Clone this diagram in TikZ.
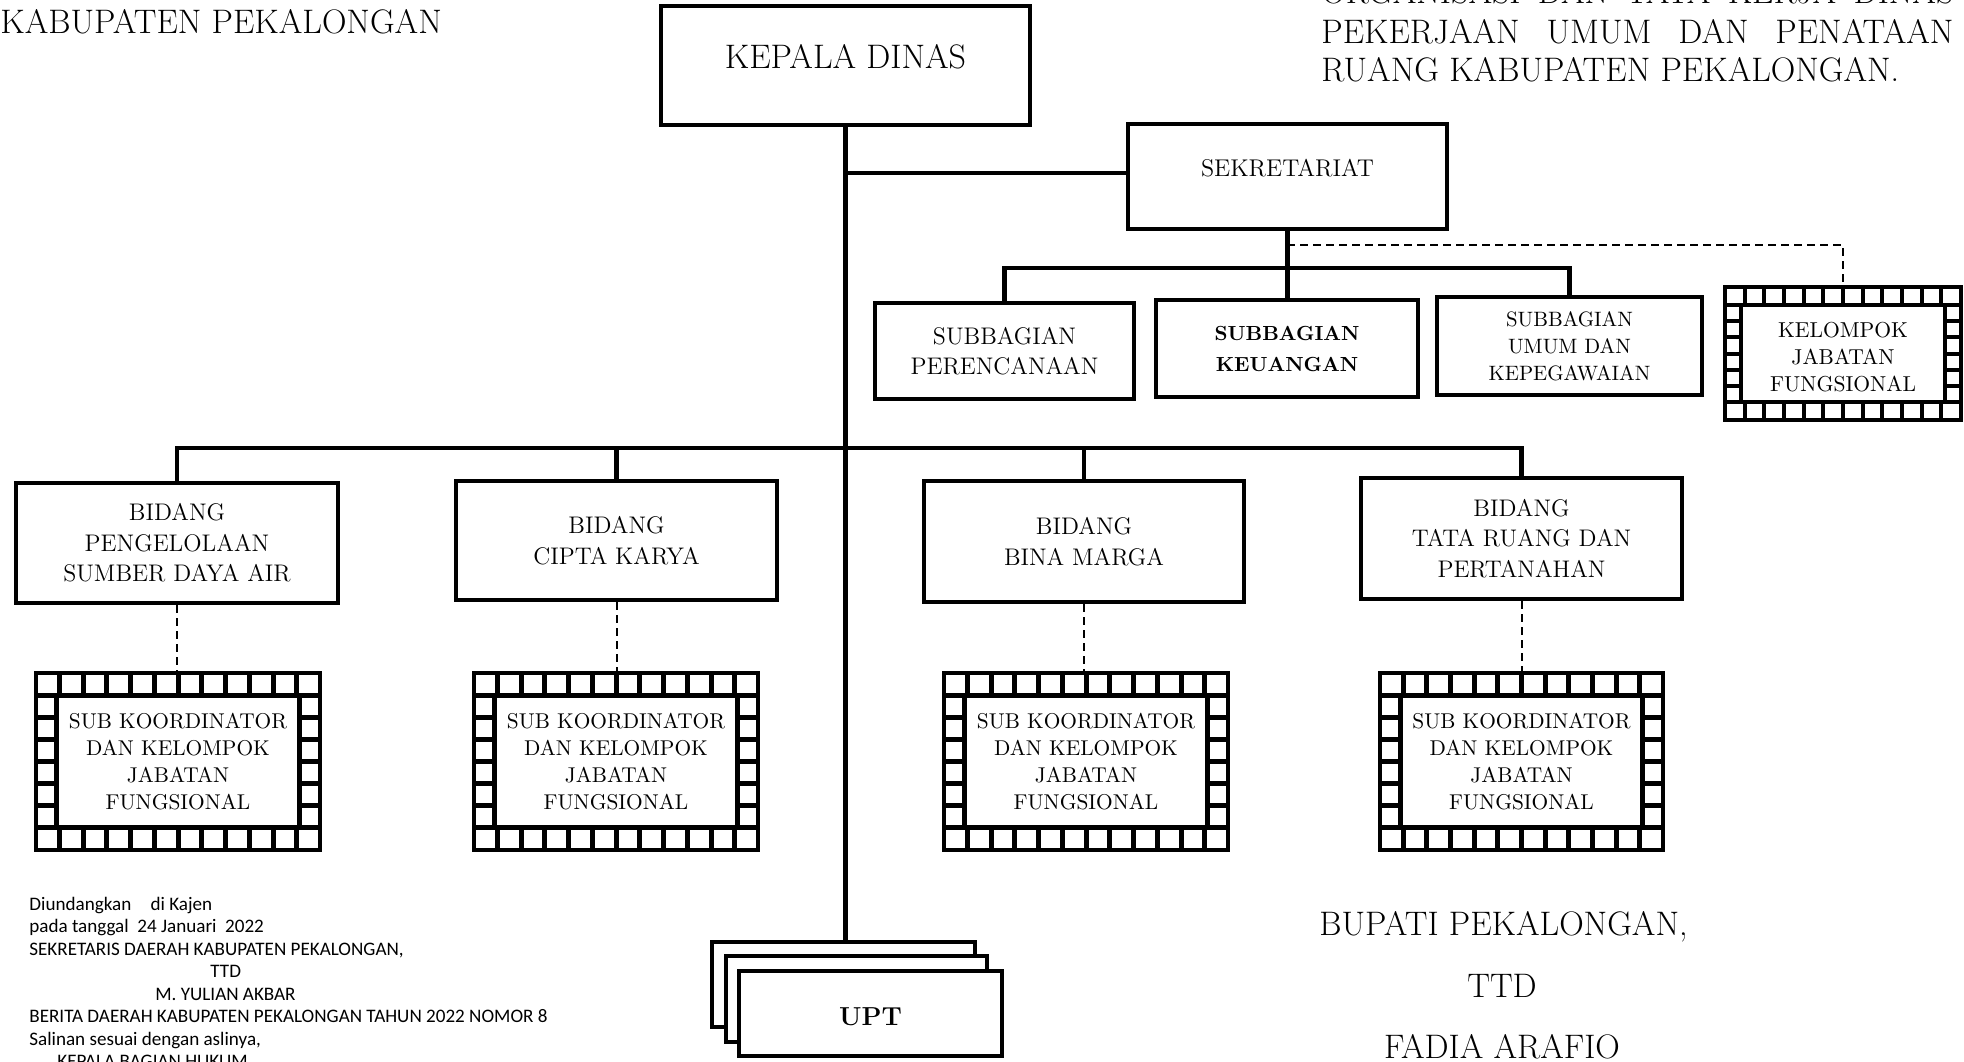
\documentclass[tikz,border=0pt]{standalone}
\usepackage{fontspec}
\newfontfamily\calfont{Carlito}
\newcommand\fsz[2]{\fontsize{#1}{#2}\selectfont}
% film-strip frame: x1 y1 x2 y2 ncols nrows outer cell sep
\newcommand\filmbox[9]{%
  \fill[black] (#1,#2) rectangle (#3,#4);
  \pgfmathsetmacro\fbpx{(#3-#1-2*#7+#9)/#5}%
  \pgfmathsetmacro\fbcs{#8-2}%
  \pgfmathsetmacro\fbys{#2+#7+#8+#9}%
  \pgfmathsetmacro\fbye{#4-#7-#8-#9}%
  \pgfmathsetmacro\fbpy{(\fbye-\fbys+#9)/#6}%
  \foreach \i in {1,...,#5}{%
    \pgfmathsetmacro\fbxa{#1+#7+(\i-1)*\fbpx}%
    \pgfmathsetmacro\fbxb{\fbxa+\fbpx-#9}%
    \fill[white] (\fbxa,{#2+#7}) rectangle (\fbxb,{#2+#7+#8});
    \fill[white] (\fbxa,{#4-#7}) rectangle (\fbxb,{#4-#7-#8});
  }%
  \foreach \j in {1,...,#6}{%
    \pgfmathsetmacro\fbya{\fbys+(\j-1)*\fbpy}%
    \pgfmathsetmacro\fbyb{\fbya+\fbpy-#9}%
    \fill[white] ({#1+#7},\fbya) rectangle ({#1+#7+\fbcs},\fbyb);
    \fill[white] ({#3-#7},\fbya) rectangle ({#3-#7-\fbcs},\fbyb);
  }%
  \fill[white] ({#1+#7+\fbcs+#9},\fbys) rectangle ({#3-#7-\fbcs-#9},\fbye);
}
\begin{document}
\begin{tikzpicture}[x=0.5pt,y=-0.5pt,
  box/.style={draw, line width=2.3pt, fill=white, inner sep=0pt, align=center},
  conn/.style={line width=2.2pt},
  dsh/.style={line width=1pt, dash pattern=on 4pt off 2.5pt},
  big/.style={font=\fsz{17}{19}},
  mid/.style={font=\fsz{12}{15.3}},
  sktext/.style={align=center, inner sep=0pt, font=\fsz{10.7}{13.4}, minimum width=144pt, minimum height=90.5pt},
  plain/.style={inner sep=0pt},
  cal/.style={font=\calfont\fsz{9.55}{11.25}, inner sep=0pt, anchor=base west},
]
\useasboundingbox (0,0) rectangle (1964,1061);

% ---------- boxes ----------
\node[box, big, minimum width=184.5pt, minimum height=59.5pt, text depth=9pt] (kd) at (845.5,65.5) {KEPALA DINAS};
\node[box, font=\fsz{12.1}{15}, minimum width=159.5pt, minimum height=52.5pt, text depth=9pt] (sek) at (1287.5,176.5) {SEKRETARIAT};
\node[box, mid, minimum width=129.5pt, minimum height=48pt] (per) at (1004.5,351) {SUBBAGIAN\\PERENCANAAN};
\node[box, font=\bfseries\fsz{10.2}{15.5}, minimum width=131pt, minimum height=48.5pt] (keu) at (1287,348.5) {SUBBAGIAN\\KEUANGAN};
\node[box, font=\fsz{10.4}{13.6}, minimum width=132.5pt, minimum height=49pt] (umum) at (1569.5,346) {SUBBAGIAN\\UMUM DAN\\KEPEGAWAIAN};

\node[box, mid, minimum width=161pt, minimum height=60pt] (b1) at (177,543) {BIDANG\\PENGELOLAAN\\SUMBER DAYA AIR};
\node[box, mid, minimum width=160.5pt, minimum height=59.5pt] (b2) at (616.5,540.5) {BIDANG\\CIPTA KARYA};
\node[box, mid, minimum width=160pt, minimum height=60.5pt] (b3) at (1084,541.5) {BIDANG\\BINA MARGA};
\node[box, mid, minimum width=160.5pt, minimum height=60.5pt] (b4) at (1521.5,538.5) {BIDANG\\TATA RUANG DAN\\PERTANAHAN};

% film-strip boxes
\filmbox{34}{671}{322}{852}{12}{6}{4}{18}{5}
\node[sktext] (sk1) at (178,761.5) {SUB KOORDINATOR\\DAN KELOMPOK\\JABATAN\\FUNGSIONAL};
\filmbox{472}{671}{760}{852}{12}{6}{4}{18}{5}
\node[sktext] (sk2) at (616,761.5) {SUB KOORDINATOR\\DAN KELOMPOK\\JABATAN\\FUNGSIONAL};
\filmbox{942}{671}{1230}{852}{12}{6}{4}{18}{5}
\node[sktext] (sk3) at (1086,761.5) {SUB KOORDINATOR\\DAN KELOMPOK\\JABATAN\\FUNGSIONAL};
\filmbox{1378}{671}{1665}{852}{12}{6}{4}{18}{5}
\node[sktext] (sk4) at (1521.5,761.5) {SUB KOORDINATOR\\DAN KELOMPOK\\JABATAN\\FUNGSIONAL};
\filmbox{1723}{285}{1963}{422}{12}{6}{4}{14}{4}
\node[align=center, inner sep=0pt, font=\fsz{10.8}{13.5}, minimum width=120pt, minimum height=68.5pt] (kjf) at (1843,357) {KELOMPOK\\JABATAN\\FUNGSIONAL};

% UPT stack
\node[box, minimum width=131.5pt, minimum height=42.5pt] (upt3) at (843.5,984.5) {};
\node[box, minimum width=130.5pt, minimum height=43pt] (upt2) at (856.5,999) {};
\node[box, font=\bfseries\fsz{13}{15}, minimum width=131.5pt, minimum height=42.5pt, text height=12pt, text depth=0pt] (upt) at (870.5,1013.5) {UPT};

% ---------- connectors ----------
\coordinate (mbar) at (846,448);
\coordinate (slink) at (846,173);
\coordinate (sbar) at (1287,268);
\coordinate (sdsh) at (1287,245);
\draw[conn] (kd.south) -- (kd.south |- upt3.north);
\draw[conn] (slink) -- (slink -| sek.west);
\draw[conn] (sek.south) -- (sek.south |- keu.north);
\draw[conn] (per.north) -- (per.north |- sbar) -- (umum.north |- sbar) -- (umum.north);
\draw[dsh] (sdsh) -| (kjf.north);
\draw[conn] (b1.north) -- (b1.north |- mbar) -- (b4.north |- mbar) -- (b4.north);
\draw[conn] (b2.north) -- (b2.north |- mbar);
\draw[conn] (b3.north) -- (b3.north |- mbar);
\draw[dsh] (b1.south) -- (b1.south |- sk1.north);
\draw[dsh] (b2.south) -- (b2.south |- sk2.north);
\draw[dsh] (b3.south) -- (b3.south |- sk3.north);
\draw[dsh] (b4.south) -- (b4.south |- sk4.north);

% ---------- free texts ----------
\node[big, plain, anchor=base west] (kab) at (0,33) {KABUPATEN PEKALONGAN};
\node[big, plain, anchor=base west] (t1) at (1321,3) {\makebox[316pt][s]{ORGANISASI DAN TATA KERJA DINAS}};
\node[big, plain, anchor=base west] (t2) at (1321,43) {\makebox[316pt][s]{PEKERJAAN UMUM DAN PENATAAN}};
\node[big, plain, anchor=base west] (t3) at (1321,81) {RUANG KABUPATEN PEKALONGAN.};
\node[big, plain, anchor=base west] (bup) at (1319,935) {BUPATI PEKALONGAN,};
\node[big, plain, anchor=base] (ttd) at (1502,997) {TTD};
\node[big, plain, anchor=base] (fadia) at (1502,1058) {FADIA ARAFIO};

\node[cal] (c1) at (29,910) {Diundangkan\hspace{7.5pt} di Kajen};
\node[cal] (c2) at (29,932.5) {pada tanggal\ \ 24 Januari\ \ 2022};
\node[cal] (c3) at (29,955) {SEKRETARIS DAERAH KABUPATEN PEKALONGAN,};
\node[cal] (c4) at (210,977.5) {TTD};
\node[cal] (c5) at (155,1000) {M. YULIAN AKBAR};
\node[cal] (c6) at (29,1022.5) {BERITA DAERAH KABUPATEN PEKALONGAN TAHUN 2022 NOMOR 8};
\node[cal] (c7) at (29,1045) {Salinan sesuai dengan aslinya,};
\node[cal] (c8) at (57,1067.5) {KEPALA BAGIAN HUKUM};
\end{tikzpicture}
\end{document}
